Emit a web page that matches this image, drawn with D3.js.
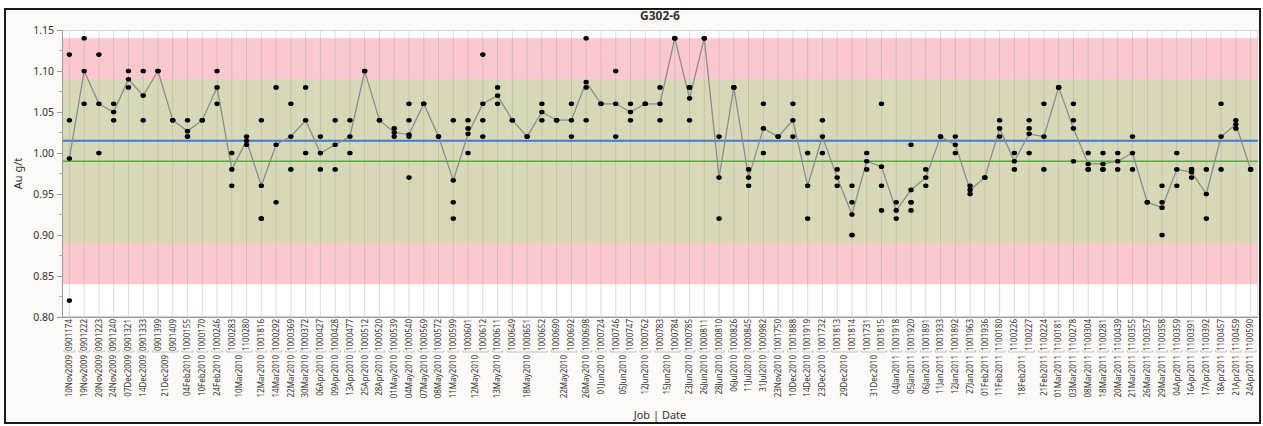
<!DOCTYPE html>
<html>
<head>
<meta charset="utf-8">
<script src="https://cdn.jsdelivr.net/npm/d3@7"></script>
<style>
  html, body { margin: 0; padding: 0; background: #ffffff; }
  svg { display: block; }
  text { font-family: "Segoe UI", "Noto Sans", "Open Sans", sans-serif; fill: #333; }
</style>
</head>
<body>
<svg id="chart" width="1263" height="426"></svg>
<script>
// Job numbers in run order (inner axis level)
const jobs = [
  "0901174","0901222","0901223","0901240","0901321","0901333","0901399","0901409",
  "1000155","1000170","1000246","1000283","1100280","1001816","1000292","1000369",
  "1000372","1000427","1000428","1000477","1000512","1000520","1000539","1000540",
  "1000569","1000572","1000599","1000601","1000612","1000611","1000649","1000651",
  "1000652","1000690","1000692","1000698","1000724","1000746","1000747","1000762",
  "1000783","1000784","1000785","1000811","1000810","1000826","1000845","1000982",
  "1001750","1001888","1001919","1001732","1001813","1001814","1001731","1001815",
  "1001918","1001920","1001891","1001933","1001892","1001963","1001936","1100180",
  "1100226","1100227","1100224","1100181","1100278","1100304","1100281","1100439",
  "1100355","1100357","1100358","1100359","1100391","1100392","1100457","1100459",
  "1100590"
];

// Date of each job (outer axis level)
const jobDates = [
  "10Nov2009","19Nov2009","20Nov2009","24Nov2009","07Dec2009","14Dec2009","21Dec2009","21Dec2009",
  "04Feb2010","10Feb2010","24Feb2010","10Mar2010","10Mar2010","12Mar2010","14Mar2010","22Mar2010",
  "30Mar2010","06Apr2010","09Apr2010","13Apr2010","25Apr2010","28Apr2010","01May2010","04May2010",
  "07May2010","08May2010","11May2010","12May2010","12May2010","13May2010","18May2010","18May2010",
  "18May2010","22May2010","22May2010","26May2010","01Jun2010","05Jun2010","05Jun2010","12Jun2010",
  "15Jun2010","15Jun2010","23Jun2010","26Jun2010","28Jun2010","06Jul2010","11Jul2010","31Jul2010",
  "23Nov2010","10Dec2010","14Dec2010","23Dec2010","29Dec2010","29Dec2010","31Dec2010","31Dec2010",
  "04Jan2011","05Jan2011","06Jan2011","11Jan2011","12Jan2011","27Jan2011","01Feb2011","11Feb2011",
  "18Feb2011","18Feb2011","21Feb2011","01Mar2011","03Mar2011","08Mar2011","18Mar2011","20Mar2011",
  "21Mar2011","26Mar2011","29Mar2011","04Apr2011","16Apr2011","17Apr2011","18Apr2011","21Apr2011",
  "24Apr2011"
];

// Au g/t assays of the G302-6 standard for each job
const assays = [
  [1.12,1.04,0.82],[1.14,1.06],[1.12,1.00],[1.06,1.04],[1.10,1.08],[1.10,1.04],[1.10],[1.04],
  [1.04,1.02,1.02],[1.04],[1.10,1.06],[1.00,0.96],[1.02,1.01],[1.04,0.92,0.92],[1.08,0.94],[1.06,0.98],
  [1.08,1.00],[1.02,0.98],[1.04,0.98],[1.04,1.00],[1.10],[1.04],[1.03,1.02],[1.06,1.04,1.02,0.97],
  [1.06],[1.02],[1.04,0.94,0.92],[1.04,1.03,1.00],[1.12,1.04,1.02],[1.08,1.06],[1.04],[1.02],
  [1.06,1.04],[1.04],[1.06,1.02],[1.14,1.08,1.04],[1.06],[1.10,1.02],[1.06,1.04],[1.06],
  [1.08,1.04],[1.14],[1.08,1.08,1.04],[1.14],[1.02,0.92],[1.08],[0.98,0.96],[1.06,1.00],
  [1.02],[1.06,1.02],[1.00,0.92],[1.04,1.00],[0.98,0.96],[0.96,0.94,0.90,0.90],[1.00,0.98],[1.06,0.96,0.93],
  [0.94,0.92],[1.01,0.94,0.94,0.93],[0.98,0.96],[1.02],[1.02,1.00],[0.96,0.95],[0.97],[1.04,1.02],
  [1.00,0.98],[1.04,1.03,1.00],[1.06,0.98],[1.08],[1.06,1.04,0.99],[1.00,0.98,0.98],[1.00,0.98,0.98],[1.00,0.98],
  [1.02,0.98],[0.94],[0.96,0.94,0.90],[1.00,0.96],[0.98,0.98,0.97],[0.98,0.92],[1.06,0.98],[1.04,1.03],
  [0.98]
];

// Reference values for the standard
const certifiedValue = 0.99;
const overallMean = 1.015;
const warnLimits = [0.89, 1.09];   // ±2 SD
const failLimits = [0.84, 1.14];   // ±3 SD

const yTicks = [0.80, 0.85, 0.90, 0.95, 1.00, 1.05, 1.10, 1.15];
const chartTitle = "G302-6";
const yTitle = "Au g/t";
const xTitle = "Job | Date";

const W = 1263, H = 426;
const plot = { left: 62, right: 1258, top: 30, bottom: 317 };

const svg = d3.select("#chart");

// page background and outer frame
svg.append("rect").attr("x", 0).attr("y", 0).attr("width", W).attr("height", H).attr("fill", "#ffffff");
svg.append("rect").attr("x", 5).attr("y", 9).attr("width", W - 8).attr("height", H - 12)
  .attr("fill", "#fcf9f6").attr("stroke", "#1a1a1a").attr("stroke-width", 2);

const x = d3.scaleBand().domain(jobs).range([plot.left, plot.right]).padding(0);
const y = d3.scaleLinear().domain([0.80, 1.15]).range([plot.bottom, plot.top]);
const cx = j => x(j) + x.bandwidth() / 2;

// plot area
svg.append("rect").attr("x", plot.left).attr("y", plot.top)
  .attr("width", plot.right - plot.left).attr("height", plot.bottom - plot.top)
  .attr("fill", "#ffffff");

// control bands: red outer (±3 SD), olive inner (±2 SD)
svg.append("rect").attr("x", plot.left).attr("width", plot.right - plot.left)
  .attr("y", y(failLimits[1])).attr("height", y(failLimits[0]) - y(failLimits[1]))
  .attr("fill", "#fbc8ce");
svg.append("rect").attr("x", plot.left).attr("width", plot.right - plot.left)
  .attr("y", y(warnLimits[1])).attr("height", y(warnLimits[0]) - y(warnLimits[1]))
  .attr("fill", "#d8d8b8");

// vertical grid at each job
svg.append("g").selectAll("line").data(jobs).join("line")
  .attr("x1", cx).attr("x2", cx)
  .attr("y1", plot.top).attr("y2", plot.bottom)
  .attr("stroke", "#9a9a9a").attr("stroke-opacity", 0.35).attr("stroke-width", 1);

// plot frame
svg.append("rect").attr("x", plot.left + 0.5).attr("y", plot.top + 0.5)
  .attr("width", plot.right - plot.left - 1).attr("height", plot.bottom - plot.top - 1)
  .attr("fill", "none").attr("stroke", "#d4d4d4").attr("stroke-width", 1);

// reference lines
svg.append("line").attr("x1", plot.left).attr("x2", plot.right)
  .attr("y1", y(overallMean)).attr("y2", y(overallMean))
  .attr("stroke", "#3f78d6").attr("stroke-width", 2);
svg.append("line").attr("x1", plot.left).attr("x2", plot.right)
  .attr("y1", y(certifiedValue)).attr("y2", y(certifiedValue))
  .attr("stroke", "#4cae3c").attr("stroke-width", 1.5);

// cell means connected
const cells = jobs.map((j, i) => ({ job: j, values: assays[i], mean: d3.mean(assays[i]) }));
svg.append("path").datum(cells)
  .attr("d", d3.line().x(d => cx(d.job)).y(d => y(d.mean)))
  .attr("fill", "none").attr("stroke", "#8c8c8c").attr("stroke-width", 1.3);

// individual assays and cell means as points
const pts = cells.flatMap(c => c.values.map(v => ({ job: c.job, v })).concat([{ job: c.job, v: c.mean }]));
svg.append("g").selectAll("ellipse").data(pts).join("ellipse")
  .attr("cx", d => cx(d.job)).attr("cy", d => y(d.v))
  .attr("rx", 2.7).attr("ry", 2.3).attr("fill", "#000");

// y axis
const yAxis = svg.append("g").attr("transform", `translate(${plot.left},0)`)
  .call(d3.axisLeft(y).tickValues(yTicks).tickFormat(d3.format(".2f")).tickSize(5).tickPadding(3));
yAxis.select(".domain").attr("stroke", "#9a9a9a");
yAxis.selectAll(".tick line").attr("stroke", "#9a9a9a");
yAxis.selectAll(".tick text").attr("font-size", "10.5px").attr("fill", "#444")
  .style("font-family", '"Segoe UI", "Noto Sans", sans-serif');
// minor ticks
svg.append("g").selectAll("line").data(yTicks.slice(0, -1).map(t => t + 0.025)).join("line")
  .attr("x1", plot.left - 3).attr("x2", plot.left)
  .attr("y1", d => y(d)).attr("y2", d => y(d)).attr("stroke", "#b0b0b0");

// bottom axis line
svg.append("line").attr("x1", plot.left).attr("x2", plot.right)
  .attr("y1", plot.bottom + 0.5).attr("y2", plot.bottom + 0.5).attr("stroke", "#9a9a9a");

// inner level: job labels
const labelSize = "8px";
svg.append("g").selectAll("text").data(jobs).join("text")
  .attr("transform", d => `translate(${cx(d)},${plot.bottom + 2}) rotate(-90)`)
  .attr("text-anchor", "end").attr("dy", "0.35em")
  .attr("font-size", labelSize).attr("fill", "#444").text(d => d);

// outer level: date groups with brackets
const groups = [];
jobDates.forEach((d, i) => {
  const last = groups[groups.length - 1];
  if (last && last.date === d) last.end = i; else groups.push({ date: d, start: i, end: i });
});
const bracketY = plot.bottom + 35;
svg.append("g").selectAll("path").data(groups).join("path")
  .attr("d", g => {
    const x0 = x(jobs[g.start]) + 2, x1 = x(jobs[g.end]) + x.bandwidth() - 2;
    return `M${x0},${bracketY - 2}V${bracketY}H${x1}V${bracketY - 2}`;
  })
  .attr("fill", "none").attr("stroke", "#c4c4c4").attr("stroke-width", 1);
svg.append("g").selectAll("text").data(groups).join("text")
  .attr("transform", g => {
    const mid = (cx(jobs[g.start]) + cx(jobs[g.end])) / 2;
    return `translate(${mid},${bracketY + 3}) rotate(-90)`;
  })
  .attr("text-anchor", "end").attr("dy", "0.35em")
  .attr("font-size", labelSize).attr("fill", "#444").text(g => g.date);

// titles
svg.append("text").attr("x", (plot.left + plot.right) / 2).attr("y", 20)
  .attr("text-anchor", "middle").attr("font-size", "12px").attr("font-weight", "bold")
  .attr("fill", "#222").text(chartTitle);
svg.append("text").attr("transform", `translate(22,${(plot.top + plot.bottom) / 2}) rotate(-90)`)
  .attr("text-anchor", "middle").attr("font-size", "11px").attr("fill", "#444").text(yTitle);
svg.append("text").attr("x", (plot.left + plot.right) / 2).attr("y", 419)
  .attr("text-anchor", "middle").attr("font-size", "11px").attr("fill", "#444").text(xTitle);
</script>
</body>
</html>
